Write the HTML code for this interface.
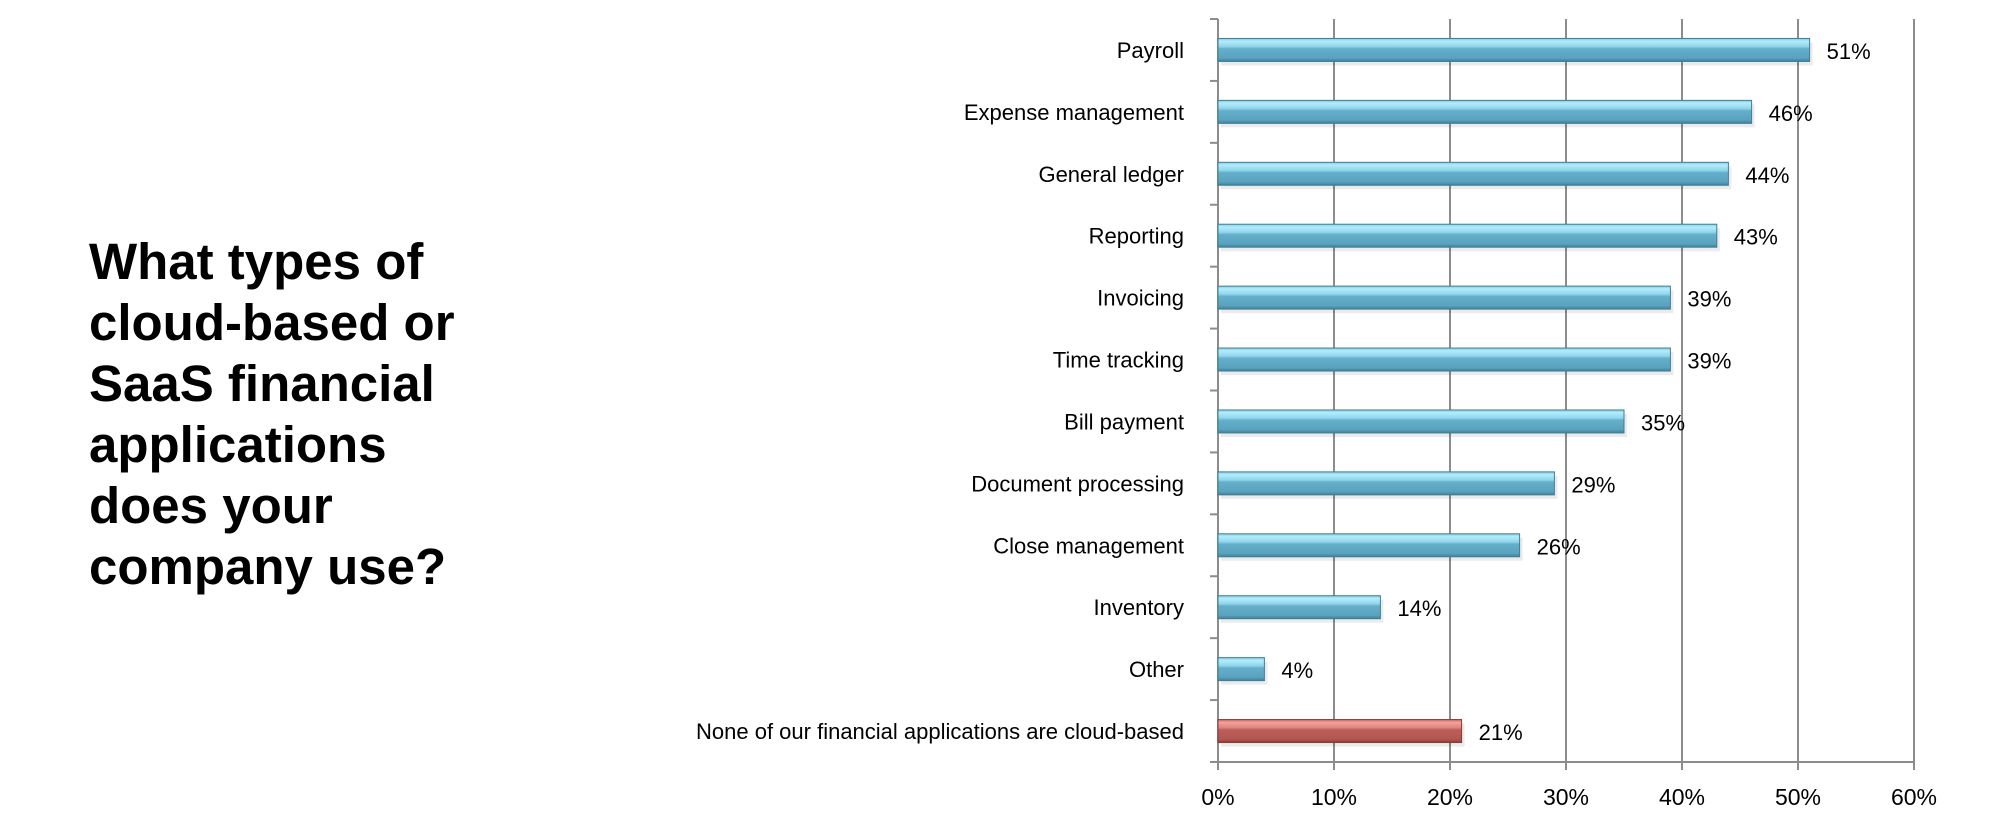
<!DOCTYPE html>
<html><head><meta charset="utf-8"><style>
html,body{margin:0;padding:0;background:#fff;}
svg{display:block;}
text{font-family:"Liberation Sans",sans-serif;}
</style></head><body>
<svg id="chart" width="2004" height="838" viewBox="0 0 2004 838">
<defs>
<linearGradient id="gBlue" x1="0" y1="0" x2="0" y2="1">
<stop offset="0" stop-color="#7fcbe3"/><stop offset="0.12" stop-color="#b4ecfb"/><stop offset="0.35" stop-color="#8fd6ec"/><stop offset="0.45" stop-color="#64afca"/><stop offset="0.85" stop-color="#5aa3bf"/><stop offset="1" stop-color="#3f7f98"/>
</linearGradient>
<linearGradient id="gRed" x1="0" y1="0" x2="0" y2="1">
<stop offset="0" stop-color="#c8625d"/><stop offset="0.12" stop-color="#f2a29c"/><stop offset="0.35" stop-color="#e0857f"/><stop offset="0.45" stop-color="#bc5d58"/><stop offset="0.85" stop-color="#b45752"/><stop offset="1" stop-color="#8a3c38"/>
</linearGradient>
</defs>
<g>
<text x="89" y="279" font-size="51" font-weight="bold" fill="#000">What types of</text>
<text x="89" y="340" font-size="51" font-weight="bold" fill="#000">cloud-based or</text>
<text x="89" y="401" font-size="51" font-weight="bold" fill="#000">SaaS financial</text>
<text x="89" y="462" font-size="51" font-weight="bold" fill="#000">applications</text>
<text x="89" y="523" font-size="51" font-weight="bold" fill="#000">does your</text>
<text x="89" y="584" font-size="51" font-weight="bold" fill="#000">company use?</text>
</g>
<g id="plot"></g>
</svg>
<script>
const categories=["Payroll","Expense management","General ledger","Reporting","Invoicing","Time tracking","Bill payment","Document processing","Close management","Inventory","Other","None of our financial applications are cloud-based"];
const values=[51,46,44,43,39,39,35,29,26,14,4,21];
const valueLabels=["51%","46%","44%","43%","39%","39%","35%","29%","26%","14%","4%","21%"];
const highlight=[false,false,false,false,false,false,false,false,false,false,false,true];
const ticks=[0,10,20,30,40,50,60];
const tickLabels=["0%","10%","20%","30%","40%","50%","60%"];

const X0=1218,X1=1914,Y0=19,Y1=762,MAX=60;
const xs=v=>X0+(v/MAX)*(X1-X0);
const band=(Y1-Y0)/categories.length;
const yc=i=>Y0+band*(i+0.5);
const NS="http://www.w3.org/2000/svg";
const g=document.getElementById('plot');
function mk(tag,attrs){const e=document.createElementNS(NS,tag);for(const k in attrs)e.setAttribute(k,attrs[k]);g.appendChild(e);return e;}

ticks.forEach((t,i)=>{
  const l=mk('line',{x1:xs(t),x2:xs(t),y1:Y0,y2:Y1+8,stroke:'#8c8c8c','stroke-width':2});
  
  
  const tx=mk('text',{x:xs(t),y:805,'font-size':23,'text-anchor':'middle',fill:'#000'});
  tx.textContent=tickLabels[i];
  
  
});
const ax=mk('line',{x1:X0-8,x2:X1,y1:Y1,y2:Y1,stroke:'#8c8c8c','stroke-width':2});


for(let i=0;i<=categories.length;i++){
  const tk=mk('line',{x1:X0-8,x2:X0,y1:Y0+band*i,y2:Y0+band*i,stroke:'#8c8c8c','stroke-width':2});
  
  
}
const bh=23;
categories.forEach((c,i)=>{
  const y=yc(i);
  const sh=mk('rect',{x:X0+3,y:y-bh/2+4,width:xs(values[i])-X0,height:bh,fill:'#000',opacity:0.08});
  
  
  const r=mk('rect',{x:X0,y:y-bh/2,width:xs(values[i])-X0,height:bh,fill:highlight[i]?'url(#gRed)':'url(#gBlue)',stroke:highlight[i]?'#8a3c38':'#3f7f98','stroke-width':1});
  
  
  const lb=mk('text',{x:1184,y:y+8,'font-size':22,'text-anchor':'end',fill:'#000'});
  lb.textContent=c;
  
  
  const vl=mk('text',{x:xs(values[i])+17,y:y+9,'font-size':22,fill:'#000'});
  vl.textContent=valueLabels[i];
  
  
});
</script>
</body></html>
